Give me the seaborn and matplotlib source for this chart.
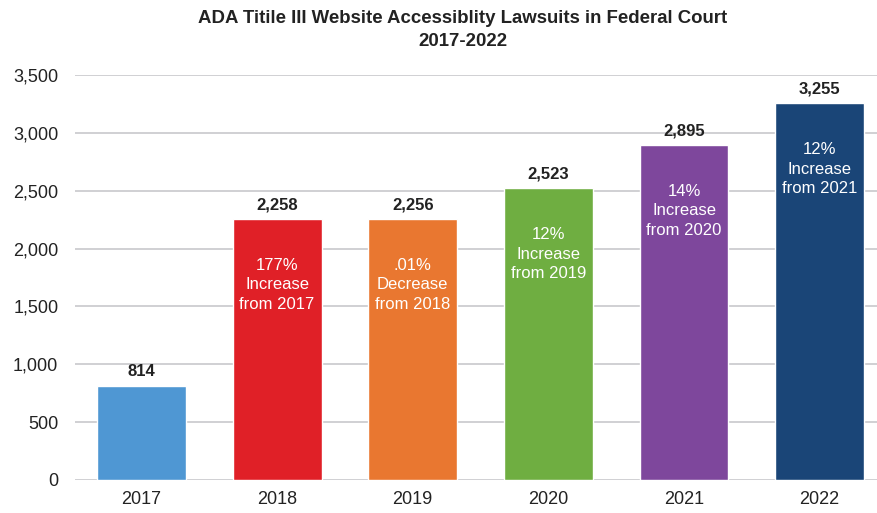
import matplotlib
matplotlib.use("Agg")
import matplotlib.pyplot as plt
import seaborn as sns
import pandas as pd

years = ["2017", "2018", "2019", "2020", "2021", "2022"]
lawsuits = [814, 2258, 2256, 2523, 2895, 3255]
notes = ["", "177%\nIncrease\nfrom 2017", ".01%\nDecrease\nfrom 2018",
         "12%\nIncrease\nfrom 2019", "14%\nIncrease\nfrom 2020", "12%\nIncrease\nfrom 2021"]
colors = ["#4f97d3", "#e02027", "#e97730", "#6fae41", "#7e479c", "#1a4577"]
yticks = [0, 500, 1000, 1500, 2000, 2500, 3000, 3500]

sns.set_theme(style="white")
plt.rcParams["font.family"] = ["Liberation Sans", "DejaVu Sans"]

df = pd.DataFrame({"year": years, "lawsuits": lawsuits})

fig = plt.figure(figsize=(8.78, 5.13), dpi=100)
ax = fig.add_axes([75/878, 1-480/513, 1-75/878, (480-75)/513])

sns.barplot(data=df, x="year", y="lawsuits", hue="year", palette=colors,
            legend=False, width=0.655, ax=ax, saturation=1, zorder=3)

ax.set_ylim(0, 3500)
ax.set_xlim(-0.49, 5.43)
ax.set_yticks(yticks)
ax.set_yticklabels([f"{v:,}" for v in yticks])
ax.yaxis.grid(True, color="#c8c8cc", linewidth=1.2, zorder=0)
ax.set_axisbelow(True)
for s in ax.spines.values():
    s.set_visible(False)
ax.set_xlabel("")
ax.set_ylabel("")
ax.tick_params(axis="both", length=0, labelsize=13, colors="#222222")
ax.tick_params(axis="y", pad=12)
ax.tick_params(axis="x", pad=8)

for i, (v, n) in enumerate(zip(lawsuits, notes)):
    ax.text(i, v + 55, f"{v:,}", ha="center", va="bottom", fontsize=12,
            fontweight="bold", color="#222222")
    if n:
        ax.text(i, v - 570, n, ha="center", va="center", fontsize=12,
                color="white", linespacing=1.38)

fig.text(463/878, 1-30/513, "ADA Titile III Website Accessiblity Lawsuits in Federal Court\n2017-2022",
         ha="center", va="center", fontsize=13.4, fontweight="bold", color="#222222",
         linespacing=1.5)

fig.savefig("out.png", dpi=100)
